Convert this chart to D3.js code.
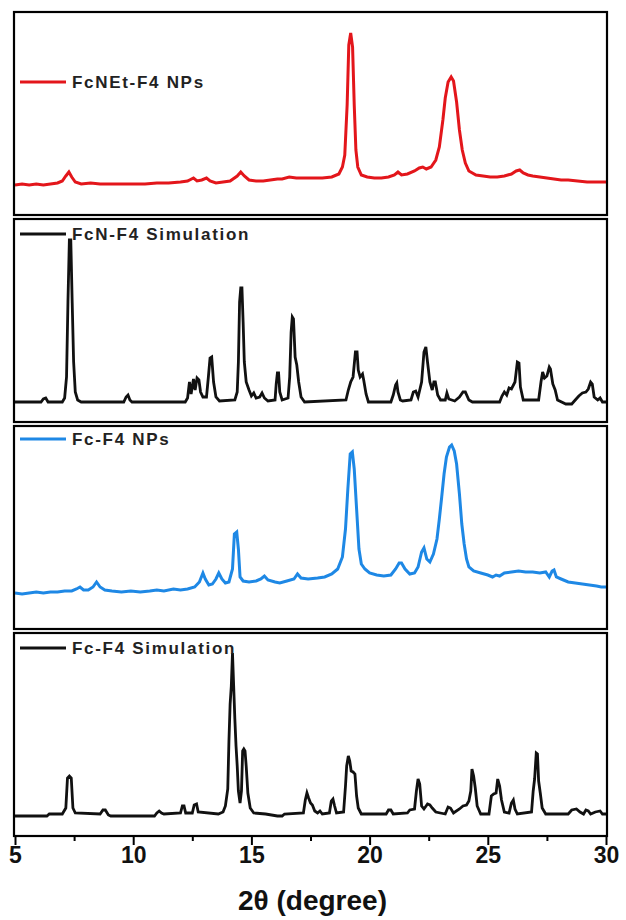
<!DOCTYPE html>
<html lang="en">
<head>
<meta charset="UTF-8">
<title>XRD patterns</title>
<style>
    body { margin: 0; background: #fff; }
    text { font-family: "Liberation Sans", Arial, sans-serif; }
    .legend { font-weight: bold; font-size: 17px; letter-spacing: 1.7px; fill: #222; }
    .tick text { font-weight: bold; font-size: 23px; }
</style>
</head>
<body>
<svg id="chart" width="626" height="920"></svg>
<script src="https://d3js.org/d3.v7.min.js"></script>
<script>
// series labels, top to bottom
var labels = ["FcNEt-F4 NPs", "FcN-F4 Simulation", "Fc-F4 NPs", "Fc-F4 Simulation"];
var colors = ["#e3161b", "#111111", "#1e88e5", "#111111"];

// [2theta, intensity (a.u.)]
var fcnetNPs = [[5.0,30],[5.3,31],[5.6,30],[5.9,31],[6.2,30],[6.5,31],[6.8,32],[7.0,34],[7.15,39],[7.28,43],[7.4,38],[7.55,33],[7.8,31],[8.2,32],[8.6,31],[9.0,31],[9.5,31],[10.0,31],[10.5,31],[11.0,32],[11.5,32],[12.0,33],[12.3,34],[12.55,37],[12.7,34],[12.9,35],[13.1,37],[13.25,34],[13.5,32],[13.8,33],[14.1,34],[14.4,39],[14.55,43],[14.7,39],[14.9,35],[15.2,34],[15.5,34],[15.8,35],[16.1,36],[16.3,36],[16.6,38],[16.9,37],[17.2,37],[17.6,37],[18.0,37],[18.4,38],[18.7,41],[18.85,48],[18.95,60],[19.05,110],[19.12,170],[19.2,182],[19.28,168],[19.35,110],[19.42,65],[19.5,48],[19.65,40],[19.9,38],[20.2,37],[20.5,37],[20.8,38],[21.05,40],[21.2,43],[21.35,40],[21.6,41],[21.9,44],[22.1,47],[22.25,48],[22.4,46],[22.6,48],[22.8,55],[22.95,68],[23.1,95],[23.2,117],[23.32,133],[23.45,138],[23.55,134],[23.68,113],[23.8,85],[23.92,65],[24.05,52],[24.2,44],[24.5,40],[24.8,39],[25.1,38],[25.4,38],[25.7,39],[26.0,41],[26.2,44],[26.35,45],[26.5,42],[26.7,40],[26.9,39],[27.2,38],[27.5,37],[27.8,36],[28.1,35],[28.4,35],[28.8,34],[29.2,33],[29.6,33],[30.0,33]];

var fcnSim = [[5.0,20],[6.1,20],[6.2,23],[6.3,24],[6.4,20],[7.0,20],[7.1,24],[7.18,45],[7.24,120],[7.3,182],[7.36,182],[7.42,119],[7.48,60],[7.55,30],[7.65,22],[7.8,20],[9.6,20],[9.7,25],[9.78,27],[9.86,22],[9.95,20],[12.2,20],[12.3,24],[12.38,40],[12.45,28],[12.55,43],[12.62,32],[12.7,44],[12.78,42],[12.85,30],[12.95,25],[13.1,25],[13.18,45],[13.25,64],[13.32,65],[13.4,40],[13.5,25],[13.65,21],[14.3,22],[14.4,30],[14.45,60],[14.5,120],[14.55,134],[14.6,134],[14.65,100],[14.7,60],[14.78,40],[14.9,32],[15.0,26],[15.1,29],[15.2,24],[15.35,25],[15.45,29],[15.55,24],[15.7,21],[16.0,22],[16.05,38],[16.1,49],[16.15,49],[16.2,30],[16.3,22],[16.55,24],[16.62,45],[16.68,90],[16.73,105],[16.78,103],[16.85,65],[16.92,57],[17.0,40],[17.1,25],[17.25,20],[19.0,22],[19.1,32],[19.2,40],[19.3,45],[19.4,70],[19.47,70],[19.52,52],[19.6,45],[19.7,48],[19.75,42],[19.85,28],[19.95,20],[20.9,20],[21.0,27],[21.1,37],[21.15,39],[21.2,30],[21.3,22],[21.4,21],[21.75,22],[21.85,30],[21.95,31],[22.05,25],[22.2,40],[22.3,70],[22.38,75],[22.45,60],[22.55,40],[22.65,32],[22.72,40],[22.78,40],[22.88,27],[23.0,22],[23.2,22],[23.27,29],[23.35,23],[23.6,21],[23.8,25],[23.95,30],[24.05,30],[24.2,22],[24.35,20],[25.5,20],[25.6,26],[25.7,30],[25.8,27],[25.9,34],[26.0,33],[26.15,40],[26.25,60],[26.32,59],[26.38,35],[26.5,22],[27.15,22],[27.25,40],[27.32,50],[27.4,44],[27.5,46],[27.6,55],[27.65,53],[27.75,38],[27.85,32],[27.95,22],[28.3,18],[28.55,18],[28.7,22],[28.85,26],[29.0,29],[29.15,30],[29.25,33],[29.35,40],[29.42,38],[29.5,25],[29.65,22],[29.75,24],[29.85,20],[30.0,20]];

var fcNPs = [[5.0,36],[5.3,35],[5.6,36],[5.9,37],[6.2,36],[6.5,37],[6.8,37],[7.1,38],[7.4,38],[7.6,40],[7.75,42],[7.9,39],[8.1,39],[8.3,42],[8.45,47],[8.6,42],[8.8,39],[9.1,38],[9.5,37],[9.9,38],[10.3,37],[10.7,38],[11.0,39],[11.3,38],[11.7,40],[12.0,39],[12.3,40],[12.6,42],[12.8,47],[12.95,56],[13.05,50],[13.2,44],[13.35,45],[13.5,50],[13.62,56],[13.75,50],[13.9,46],[14.05,47],[14.2,60],[14.28,95],[14.38,97],[14.45,80],[14.52,52],[14.65,48],[14.9,47],[15.2,48],[15.4,50],[15.55,53],[15.7,49],[16.0,47],[16.2,46],[16.5,48],[16.8,50],[16.95,55],[17.1,51],[17.4,50],[17.8,51],[18.1,52],[18.4,55],[18.65,60],[18.85,72],[18.98,100],[19.08,140],[19.18,175],[19.27,177],[19.35,160],[19.45,120],[19.55,80],[19.65,65],[19.8,60],[20.0,56],[20.3,54],[20.6,53],[20.9,54],[21.1,60],[21.25,66],[21.35,66],[21.5,60],[21.7,55],[21.9,56],[22.05,62],[22.2,77],[22.3,81],[22.42,70],[22.55,67],[22.7,75],[22.85,90],[22.95,110],[23.05,132],[23.15,155],[23.25,172],[23.38,182],[23.47,184],[23.58,178],[23.68,165],[23.8,135],[23.9,105],[24.0,85],[24.1,70],[24.2,62],[24.4,58],[24.7,56],[25.0,54],[25.2,52],[25.35,54],[25.5,53],[25.7,56],[26.0,57],[26.3,58],[26.6,57],[26.9,57],[27.2,56],[27.45,57],[27.6,52],[27.72,58],[27.8,59],[27.9,52],[28.1,50],[28.4,47],[28.7,46],[29.0,45],[29.3,44],[29.6,43],[29.8,42],[30.0,42]];

var fcSim = [[5.0,20],[6.35,20],[6.45,22],[7.0,22],[7.15,28],[7.22,58],[7.3,60],[7.38,58],[7.45,28],[7.55,23],[8.6,22],[8.72,26],[8.82,26],[8.95,21],[9.05,20],[10.9,20],[11.0,23],[11.1,25],[11.2,23],[11.3,22],[12.0,23],[12.08,30],[12.15,30],[12.22,23],[12.5,23],[12.58,31],[12.68,32],[12.75,24],[13.6,22],[13.8,24],[13.9,30],[14.0,47],[14.05,95],[14.1,132],[14.15,150],[14.2,183],[14.25,150],[14.3,117],[14.35,90],[14.4,70],[14.45,45],[14.52,33],[14.58,45],[14.63,85],[14.68,87],[14.73,85],[14.78,70],[14.85,43],[14.95,28],[15.1,23],[15.6,22],[16.1,20],[16.3,20],[16.4,22],[17.2,23],[17.28,36],[17.35,43],[17.42,38],[17.5,33],[17.58,31],[17.68,25],[17.8,23],[17.9,25],[18.0,22],[18.3,23],[18.38,35],[18.45,37],[18.52,30],[18.6,23],[18.9,24],[18.98,50],[19.03,70],[19.1,80],[19.16,75],[19.22,65],[19.3,64],[19.38,62],[19.45,40],[19.52,28],[19.65,22],[20.7,22],[20.8,26],[20.9,26],[21.0,22],[21.6,23],[21.7,26],[21.9,27],[21.98,45],[22.05,57],[22.12,52],[22.2,30],[22.3,27],[22.45,32],[22.55,31],[22.65,28],[22.8,24],[23.2,22],[23.32,29],[23.42,28],[23.55,23],[23.8,27],[23.95,30],[24.1,31],[24.2,35],[24.28,45],[24.33,67],[24.4,60],[24.47,48],[24.55,30],[24.7,22],[25.05,22],[25.15,40],[25.25,42],[25.35,43],[25.42,57],[25.5,50],[25.58,36],[25.7,24],[25.9,23],[26.0,33],[26.08,36],[26.15,27],[26.25,22],[26.85,24],[26.92,45],[26.98,57],[27.05,83],[27.1,82],[27.15,55],[27.22,43],[27.3,28],[27.45,22],[28.4,22],[28.55,26],[28.75,27],[28.9,24],[29.05,22],[29.15,26],[29.25,25],[29.35,22],[29.55,24],[29.75,25],[29.85,22],[30.0,22]];

var series = [fcnetNPs, fcnSim, fcNPs, fcSim];
var xTicks = [5, 10, 15, 20, 25, 30];
var xMinor = [7.5, 12.5, 17.5, 22.5, 27.5];

var svg = d3.select("#chart");
var left = 15, right = 606;
var panelTop = 12, panelH = 203, panelGap = 4;
var legendDy = [70, 15, 13, 15];
var lineW = [3, 2.8, 3, 2.8];

var x = d3.scaleLinear().domain([5, 30]).range([left, right]);

series.forEach(function(data, i) {
    var top = panelTop + i * (panelH + panelGap);
    var y = d3.scaleLinear().domain([0, panelH]).range([top + panelH, top]);

    var line = d3.line()
        .x(function(d) { return x(d[0]); })
        .y(function(d) { return y(d[1]); });

    svg.append("path")
        .datum(data)
        .attr("fill", "none")
        .attr("stroke", colors[i])
        .attr("stroke-width", lineW[i])
        .attr("stroke-linejoin", "miter")
        .attr("d", line);

    svg.append("rect")
        .attr("x", left - 1)
        .attr("y", top)
        .attr("width", right - left + 2)
        .attr("height", panelH)
        .attr("fill", "none")
        .attr("stroke", "#000")
        .attr("stroke-width", 2.2);

    // legend
    var ly = top + legendDy[i];
    svg.append("line")
        .attr("x1", 20).attr("x2", 66)
        .attr("y1", ly).attr("y2", ly)
        .attr("stroke", colors[i])
        .attr("stroke-width", 2.8);
    svg.append("text")
        .attr("class", "legend")
        .attr("x", 72)
        .attr("y", ly)
        .attr("dy", "0.36em")
        .text(labels[i]);
});

var axisY = panelTop + 4 * panelH + 3 * panelGap;

// minor ticks
svg.append("g")
    .attr("transform", "translate(0," + axisY + ")")
    .call(d3.axisBottom(x).tickValues(xMinor).tickSize(5).tickFormat(""))
    .call(function(g) { g.select(".domain").remove(); })
    .selectAll("line").attr("stroke-width", 2);

// major ticks
var ax = svg.append("g")
    .attr("transform", "translate(0," + axisY + ")")
    .call(d3.axisBottom(x).tickValues(xTicks).tickSize(9).tickPadding(2).tickFormat(d3.format("d")));
ax.select(".domain").remove();
ax.selectAll("line").attr("stroke-width", 2);
ax.selectAll("text").attr("fill", "#111");

// axis title
svg.append("text")
    .attr("x", (left + right) / 2 + 2)
    .attr("y", 910)
    .attr("text-anchor", "middle")
    .style("font-weight", "bold")
    .style("font-size", "28px")
    .attr("fill", "#111")
    .text("2θ (degree)");
</script>
</body>
</html>
